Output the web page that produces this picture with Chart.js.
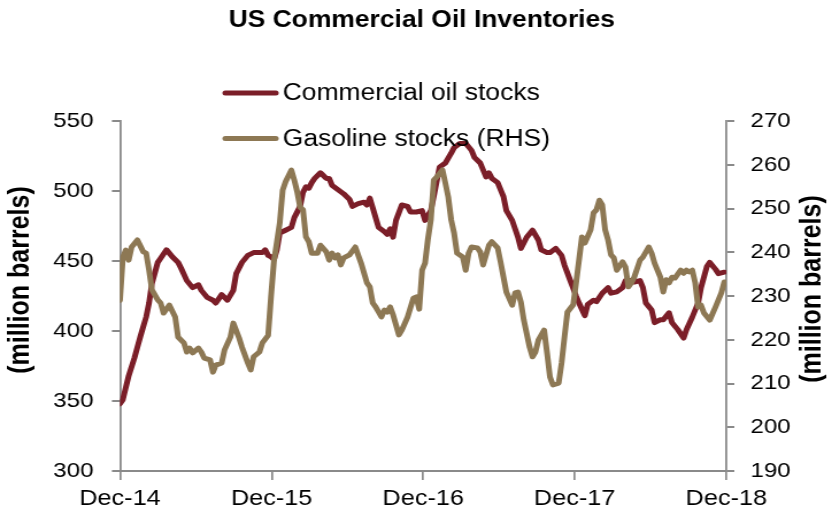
<!DOCTYPE html>
<html>
<head>
<meta charset="utf-8">
<script src="https://cdn.jsdelivr.net/npm/chart.js@4.4.1/dist/chart.umd.min.js"></script>
<style>
html, body { margin: 0; padding: 0; background: #fff; overflow: hidden; }
#wrap { width: 724px; height: 515px; transform: scaleX(1.1492); transform-origin: 0 0; }
</style>
</head>
<body>
<div id="wrap"><canvas id="chart" width="724" height="515"></canvas></div>
<script>
const chartTitle = 'US Commercial Oil Inventories';
const axisTitle = '(million barrels)';

// x positions are weeks since Dec-14
const tickWeeks = [0, 52.2, 104.4, 156.5, 208.7];
const tickLabels = ['Dec-14', 'Dec-15', 'Dec-16', 'Dec-17', 'Dec-18'];

// Commercial oil stocks, million barrels (left axis)
const oilWeeks = [
    0, 1, 3, 5, 7, 9, 10, 11, 13, 14, 16, 18, 20, 21, 23, 25, 27, 28, 30, 32, 33, 35, 37, 39, 40, 42, 44, 46, 49, 50, 51,
    52, 53, 54, 55, 57, 59, 60, 62, 63, 64, 65, 66, 67, 69, 71, 72, 73, 75, 77, 79, 80, 82, 84, 85, 86, 88, 89, 91, 92, 93, 94, 95, 97, 99, 100, 102,
    104, 105, 107, 108, 110, 112, 114, 115, 117, 119, 121, 122, 124, 126, 127, 128, 130, 132, 133, 135, 137, 138, 140, 142, 144, 145, 147, 148, 150, 152, 153, 155,
    157, 158, 160, 161, 163, 164, 166, 168, 169, 171, 173, 174, 176, 177, 179, 180, 181, 183, 184, 186, 187, 189, 190, 192, 194, 195, 197, 199, 200, 202, 203, 205, 206, 208
];
const oilStocks = [
    348, 351, 368, 381, 396, 410, 420, 434, 449, 452, 458, 453, 449, 445, 436, 431, 433, 429, 424, 422, 420, 426, 422, 429, 441, 449, 454, 456, 456, 458, 454,
    453, 451, 458, 470, 472, 474, 481, 489, 499, 503, 502, 506, 509, 513, 509, 509, 504, 501, 498, 494, 489, 491, 492, 490, 495, 481, 474, 471, 469, 473, 467, 479, 490, 489, 485, 485,
    486, 479, 486, 496, 517, 520, 527, 531, 534, 534, 529, 524, 520, 510, 513, 509, 506, 496, 486, 479, 467, 459, 467, 472, 465, 458, 456, 456, 459, 454, 447, 436,
    425, 420, 411, 419, 422, 421, 427, 431, 427, 428, 431, 436, 436, 435, 436, 431, 420, 415, 406, 408, 408, 413, 406, 401, 395, 401, 410, 420, 431, 446, 449, 444, 441, 442
];

// Gasoline stocks, million barrels (right axis)
const gasWeeks = [
    0, 1, 2, 3, 4, 6, 8, 9, 10, 11, 13, 14, 15, 17, 19, 20, 22, 23, 24, 25, 27, 28, 29, 31, 32, 33, 35, 36, 38, 39, 41, 42, 44, 45, 46, 48, 49, 51,
    52, 53, 55, 56, 57, 59, 60, 61, 62, 63, 64, 65, 66, 68, 69, 71, 72, 73, 74, 75, 76, 77, 79, 81, 83, 85, 86, 87, 88, 90, 91, 92, 93, 94, 95, 96, 97, 99, 101, 102, 103,
    104, 105, 106, 107, 108, 109, 111, 112, 113, 114, 115, 116, 118, 119, 120, 121, 123, 124, 125, 127, 128, 130, 131, 132, 133, 135, 136, 137, 138, 139, 141, 142, 143, 144, 146, 147, 148, 149, 151, 152, 153, 154,
    156, 157, 158, 159, 160, 162, 163, 164, 165, 166, 167, 168, 169, 170, 171, 173, 174, 175, 176, 177, 179, 180, 182, 183, 184, 186, 187, 188, 189, 190, 191, 193, 194, 195, 196, 197, 198, 199, 200, 201, 203, 205, 207, 208
];
const gasStocks = [
    229.0, 238.9, 240.5, 238.2, 241.2, 242.8, 240.1, 239.8, 235.9, 231.4, 229.1, 228.4, 226.1, 227.9, 225.2, 220.6, 219.3, 217.2, 218.1, 217.0, 218.1, 217.2, 215.8, 215.4, 212.6, 214.2, 214.7, 217.7, 220.6, 223.8, 220.4, 218.3, 214.7, 213.1, 216.1, 217.2, 219.3, 221.0,
    230.0, 238.0, 246.7, 254.2, 256.1, 258.8, 256.5, 253.8, 250.3, 249.7, 243.5, 242.4, 239.8, 239.8, 241.6, 240.1, 238.2, 239.8, 238.7, 239.4, 237.1, 238.7, 239.4, 241.2, 237.5, 233.0, 232.1, 228.4, 227.5, 225.2, 226.8, 226.3, 227.5, 225.7, 223.4, 221.1, 222.2, 225.2, 229.5, 229.8, 227.0,
    235.9, 237.5, 243.0, 247.4, 256.5, 257.2, 258.8, 255.8, 252.6, 247.4, 244.4, 239.8, 238.9, 235.9, 239.8, 241.2, 241.0, 240.1, 237.1, 241.6, 242.4, 241.0, 237.8, 234.3, 230.9, 227.9, 230.7, 230.9, 228.6, 224.5, 218.3, 216.1, 217.2, 219.9, 222.2, 217.0, 211.5, 209.7, 210.1, 214.7, 220.6, 226.3,
    228.0, 233.0, 238.2, 243.5, 242.1, 245.1, 249.0, 249.7, 251.9, 250.8, 245.1, 242.8, 239.4, 238.7, 235.9, 237.8, 236.6, 232.1, 233.0, 234.3, 238.2, 238.9, 241.2, 239.8, 237.5, 234.3, 230.9, 233.7, 233.0, 234.3, 234.1, 235.9, 235.2, 235.9, 235.5, 235.9, 233.0, 227.5, 227.9, 226.1, 224.5, 227.5, 230.7, 233.2
];

const FONT = '"Liberation Sans", Arial, Helvetica, sans-serif';
const axisGrey = '#8a8a8a';
const oilColor = '#7b1e28';
const gasColor = '#8d7854';

function toPoints(xs, ys) {
    return xs.map((x, i) => ({ x: x, y: ys[i] }));
}

// title, rotated axis titles and the two-row legend
const overlay = {
    id: 'overlay',
    afterDraw(chart) {
        const ctx = chart.ctx;
        ctx.save();
        ctx.fillStyle = '#000';
        ctx.textAlign = 'center';
        ctx.textBaseline = 'middle';
        ctx.font = 'bold 23px ' + FONT;
        ctx.fillText(chartTitle, 367, 21);

        ctx.font = 'bold 25px ' + FONT;
        ctx.save();
        ctx.translate(18, 280);
        ctx.rotate(-Math.PI / 2);
        ctx.fillText(axisTitle, 0, 0);
        ctx.restore();
        ctx.save();
        ctx.translate(707, 289);
        ctx.rotate(-Math.PI / 2);
        ctx.fillText(axisTitle, 0, 0);
        ctx.restore();

        ctx.font = '23px ' + FONT;
        ctx.textAlign = 'left';
        chart.data.datasets.forEach((ds, i) => {
            const y = 93 + i * 45.5;
            ctx.strokeStyle = ds.borderColor;
            ctx.lineWidth = 5;
            ctx.lineCap = 'round';
            ctx.beginPath();
            ctx.moveTo(196, y);
            ctx.lineTo(240, y);
            ctx.stroke();
            ctx.fillText(ds.label, 246, y + 1);
        });
        ctx.restore();
    }
};

new Chart(document.getElementById('chart'), {
    type: 'line',
    data: {
        datasets: [
            {
                label: 'Commercial oil stocks',
                data: toPoints(oilWeeks, oilStocks),
                yAxisID: 'y',
                borderColor: oilColor,
                borderWidth: 5,
                pointRadius: 0,
                tension: 0,
                borderJoinStyle: 'round',
                borderCapStyle: 'round',
                order: 2
            },
            {
                label: 'Gasoline stocks (RHS)',
                data: toPoints(gasWeeks, gasStocks),
                yAxisID: 'y2',
                borderColor: gasColor,
                borderWidth: 5,
                pointRadius: 0,
                tension: 0,
                borderJoinStyle: 'round',
                borderCapStyle: 'round',
                order: 1
            }
        ]
    },
    options: {
        responsive: false,
        animation: false,
        devicePixelRatio: 1,
        layout: { padding: { top: 121, left: 0, right: 0, bottom: 0 } },
        plugins: {
            legend: { display: false },
            title: { display: false },
            tooltip: { enabled: false }
        },
        scales: {
            x: {
                type: 'linear',
                min: 0,
                max: 208.7,
                afterBuildTicks: s => { s.ticks = tickWeeks.map(v => ({ value: v })); },
                afterFit: s => { s.height = 44; },
                ticks: {
                    callback: (v, i) => tickLabels[i],
                    color: '#000',
                    font: { family: FONT, size: 22 },
                    padding: 6,
                    maxRotation: 0,
                    autoSkip: false
                },
                grid: { drawOnChartArea: false, drawTicks: true, tickLength: 9, color: axisGrey, lineWidth: 1.7 },
                border: { color: axisGrey, width: 2 }
            },
            y: {
                position: 'left',
                min: 300,
                max: 550,
                afterFit: s => { s.width = 104.4; },
                ticks: {
                    stepSize: 50,
                    color: '#000',
                    font: { family: FONT, size: 21 },
                    padding: 16
                },
                grid: { drawOnChartArea: false, drawTicks: true, tickLength: 7, color: axisGrey, lineWidth: 2 },
                border: { color: axisGrey, width: 1.8 }
            },
            y2: {
                position: 'right',
                min: 190,
                max: 270,
                afterFit: s => { s.width = 92; },
                ticks: {
                    stepSize: 10,
                    color: '#000',
                    font: { family: FONT, size: 21 },
                    padding: 14
                },
                grid: { drawOnChartArea: false, drawTicks: true, tickLength: 7, color: axisGrey, lineWidth: 2 },
                border: { color: axisGrey, width: 1.8 }
            }
        }
    },
    plugins: [overlay]
});
</script>
</body>
</html>
